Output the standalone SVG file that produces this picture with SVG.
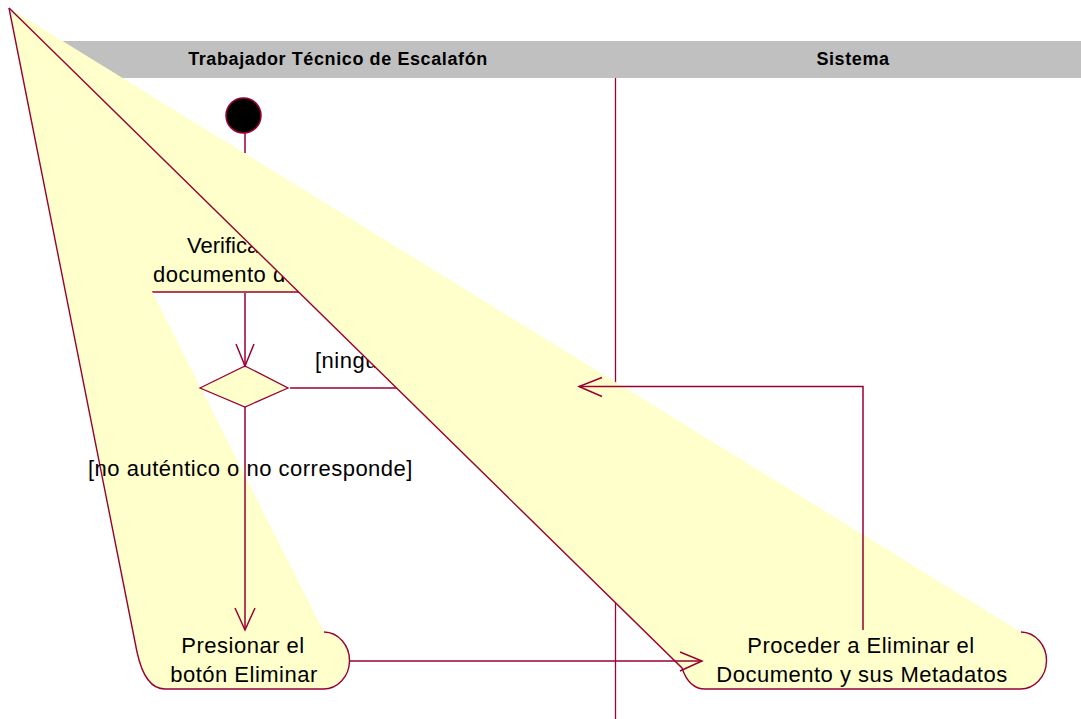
<svg xmlns="http://www.w3.org/2000/svg" width="1081" height="719" viewBox="0 0 1081 719">
<style>
.hdr{fill:#C0C0C0;stroke:none}
.hdrtxt{font-family:"Liberation Sans",Arial,sans-serif;font-weight:bold;font-size:18px;letter-spacing:0.6px;fill:#000;text-anchor:middle}
.lane{stroke:#990033;stroke-width:1.3;fill:none}
.fillY{fill:#FFFFCC;stroke:none}
.edge{fill:none;stroke:#990033;stroke-width:1.4}
.txt{font-family:"Liberation Sans",Arial,sans-serif;font-size:22px;letter-spacing:0.5px;fill:#000}
.mid{text-anchor:middle}
.conn{fill:none;stroke:#990033;stroke-width:1.5}
</style>
<defs>
<clipPath id="leftOfDiag"><polygon points="0,0 9,8 734,719 0,719"/></clipPath>
</defs>
<rect width="1081" height="719" fill="#fff"/>
<g id="swimlanes">
<rect class="hdr" x="60" y="41" width="1021" height="37"/>
<text class="hdrtxt" x="338" y="65">Trabajador Técnico de Escalafón</text>
<text class="hdrtxt" x="853" y="65">Sistema</text>
<line class="lane" x1="615.5" y1="78" x2="615.5" y2="384"/>
<line class="lane" x1="615.5" y1="600" x2="615.5" y2="719"/>
</g>
<g id="node-start">
<circle cx="243.5" cy="115.5" r="17.5" fill="#000" stroke="#990033" stroke-width="1.5"/>
</g>
<g id="node-verificar">
<polygon class="fillY" points="9,8 152,292 345,292 345,225"/>
<line class="edge" x1="152" y1="292" x2="345" y2="292"/>
<text class="txt" x="187" y="253" style="letter-spacing:0">Verifica</text>
<text class="txt" x="153" y="282">documento d</text>
</g>
<g id="node-presionar">
<path class="fillY" d="M9,8 L137,652 Q145,689 165,689 L323,689 A26,28.5 0 0 0 324,632 Z"/>
<path class="edge" d="M9,8 L137,652 Q145,689 165,689 L323,689 A26,28.5 0 0 0 324,632"/>
<text class="txt mid" x="243" y="653">Presionar el</text>
<text class="txt mid" x="244" y="682">botón Eliminar</text>
</g>
<g id="node-decision">
<polygon points="200,388 245,366 288,388 245,407" fill="#FFFFCC" stroke="#990033" stroke-width="1.3"/>
</g>
<g id="label-ninguna" clip-path="url(#leftOfDiag)">
<text class="txt" x="315" y="368">[ningu</text>
<line class="conn" x1="290" y1="388" x2="420" y2="388"/>
</g>
<g id="node-proceder">
<path class="fillY" d="M9,8 L682,668 Q689,689 705,689 L1020,689 A26,28.5 0 0 0 1021,632 Z"/>
<path class="edge" d="M9,8 L682,668 Q689,689 705,689 L1020,689 A26,28.5 0 0 0 1021,632"/>
<text class="txt mid" x="861" y="653">Proceder a Eliminar el</text>
<text class="txt mid" x="862" y="682">Documento y sus Metadatos</text>
</g>
<g id="connectors">
<line class="conn" x1="245" y1="133" x2="245" y2="153"/>
<line class="conn" x1="245" y1="293" x2="245" y2="366"/>
<polyline class="conn" points="236,344 245,366 254,344"/>
<line class="conn" x1="245" y1="407" x2="245" y2="630"/>
<polyline class="conn" points="235,608 245,630 255,608"/>
<line class="conn" x1="349" y1="661" x2="702" y2="661"/>
<polyline class="conn" points="680,652 702,661 680,671"/>
<polyline class="conn" points="863,630 863,386.5 579,386.5"/>
<polyline class="conn" points="602,377.5 579,386.5 602,396.5"/>
<text class="txt" x="88" y="476">[no auténtico o no corresponde]</text>
</g>
</svg>
